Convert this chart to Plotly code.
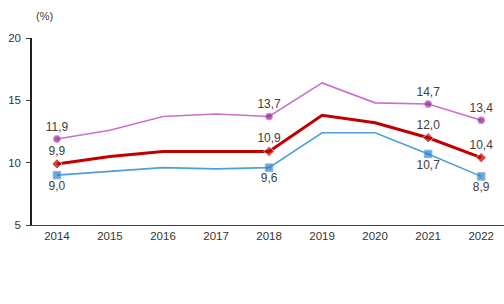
import plotly.graph_objects as go

years = [2014, 2015, 2016, 2017, 2018, 2019, 2020, 2021, 2022]
toplam = [9.9, 10.5, 10.9, 10.9, 10.9, 13.8, 13.2, 12.0, 10.4]
erkek = [9.0, 9.3, 9.6, 9.5, 9.6, 12.4, 12.4, 10.7, 8.9]
kadin = [11.9, 12.6, 13.7, 13.9, 13.7, 16.4, 14.8, 14.7, 13.4]
labeled_years = [2014, 2018, 2021, 2022]

def labels(vals):
    return [f"{v:.1f}".replace(".", ",") if y in labeled_years else "" for y, v in zip(years, vals)]

def sizes(base):
    return [base if y in labeled_years else 0 for y in years]

fig = go.Figure()
series = [
    ("Toplam", toplam, "#C00000", "#C00000", 3, "diamond", 8, "top center"),
    ("Erkek", erkek, "#4E9FD9", "#2F7FC8", 1.6, "square", 7.5, "bottom center"),
    ("Kadın", kadin, "#CC6FCC", "#8E1F8E", 1.6, "circle", 7, "top center"),
]
for name, vals, lc, mc, lw, sym, ms, tp in series:
    fig.add_trace(go.Scatter(
        x=years, y=vals, name=name, mode="lines+markers+text",
        line=dict(color=lc, width=lw),
        marker=dict(color=mc, symbol=sym, size=sizes(ms)),
        text=labels(vals), textposition=tp,
        textfont=dict(family="Arial, Liberation Sans", size=12, color="#404040"),
        cliponaxis=False,
    ))

fig.update_layout(
    width=504, height=304,
    margin=dict(l=32, r=0, t=38, b=79, autoexpand=False),
    paper_bgcolor="white", plot_bgcolor="white",
    font=dict(family="Arial, Liberation Sans", size=10, color="#404040"),
    showlegend=True,
    legend=dict(orientation="h", x=0.5, xanchor="center", xref="paper",
                y=-0.42, yanchor="top", yref="paper", bgcolor="rgba(0,0,0,0)",
                font=dict(size=10, color="#404040"), itemwidth=30, tracegroupgap=0),
    annotations=[dict(text="(%)", x=0.005, y=1.118, xref="paper", yref="paper",
                      xanchor="left", yanchor="middle", showarrow=False,
                      font=dict(size=11, color="#404040"))],
)
fig.update_xaxes(range=[2013.53, 2022.43], tickvals=years, ticktext=[str(y) for y in years],
                 showline=True, linecolor="#404040", linewidth=1.2, showgrid=False,
                 ticks="", zeroline=False, automargin=False,
                 tickfont=dict(size=11.5, color="#333333", family="Arial, Liberation Sans"))
fig.update_yaxes(range=[5, 20], tickvals=[5, 10, 15, 20], showline=True, linecolor="#202020",
                 linewidth=1.5, showgrid=False, ticks="outside", ticklen=4, tickcolor="#404040",
                 zeroline=False, automargin=False, ticklabelstandoff=3,
                 tickfont=dict(size=11.5, color="#333333", family="Arial, Liberation Sans"))

fig.write_html("out.html", config={"displayModeBar": False},
               post_script="document.body.style.margin='0';document.body.style.overflow='hidden';")
